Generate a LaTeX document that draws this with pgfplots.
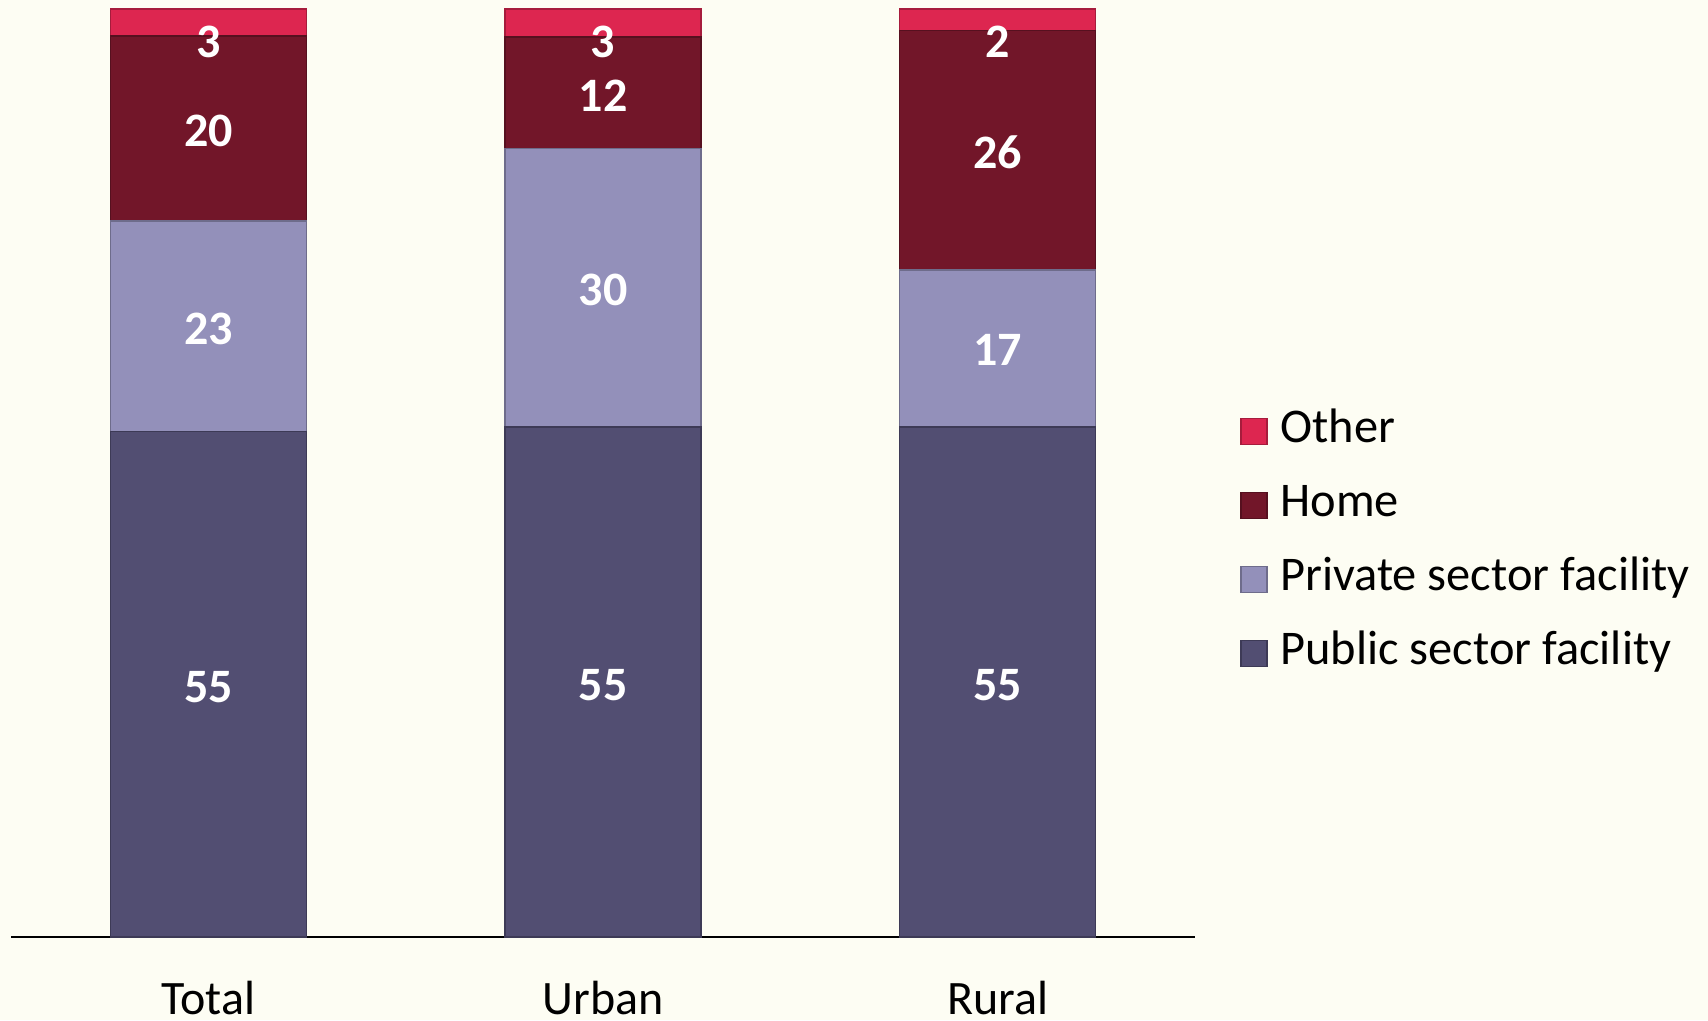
\documentclass[border=0pt]{standalone}
\usepackage{fontspec}
\setmainfont{Carlito}
\usepackage{pgfplots}
\pgfplotsset{compat=1.18}
\definecolor{bgcol}{RGB}{253,253,243}
\definecolor{pubcol}{RGB}{82,78,114}
\definecolor{privcol}{RGB}{147,144,186}
\definecolor{homecol}{RGB}{114,22,41}
\definecolor{othcol}{RGB}{221,38,80}
\begin{document}
\begin{tikzpicture}
\path[fill=bgcol, use as bounding box] (0,0) rectangle (427pt,255pt);
\pgfplotsset{
  basestyle/.style={
    scale only axis, width=296pt, height=234.25pt,
    at={(2.75pt,20.75pt)}, anchor=south west,
    xmin=-0.5, xmax=2.5, ymin=0, ymax=101,
    clip=false,
  }
}
\begin{axis}[basestyle,
  ybar stacked, bar width=49pt,
  axis x line*=bottom, axis y line=none,
  x axis line style={black, line width=0.45pt},
  xtick={0,1,2}, xticklabels={Total,Urban,Rural},
  major tick length=0pt,
  xticklabel style={font=\fontsize{12}{14}\selectfont, anchor=base, yshift=-19.25pt},
  reverse legend,
  legend cell align=left,
  legend style={draw=none, fill=none, at={(1.0376,0.570)}, anchor=north west,
    font=\fontsize{12.1}{14}\selectfont, inner sep=0pt,
    nodes={inner sep=1.6pt, text height=8pt, text depth=2.5pt}, row sep=4.8pt,
    /tikz/every odd column/.append style={column sep=1.6pt}},
  legend image code/.code={\draw[#1, line width=0.3pt] (0pt,-3.25pt) rectangle (6.5pt,3.25pt);},
]
\addplot[fill=pubcol, draw=pubcol!75!black, line width=0.4pt] coordinates {(0,54.5) (1,55.0) (2,55.0)};
\addlegendentry{Public sector facility}
\addplot[fill=privcol, draw=privcol!75!black, line width=0.4pt] coordinates {(0,22.7) (1,30.0) (2,16.9)};
\addlegendentry{Private sector facility}
\addplot[fill=homecol, draw=homecol!75!black, line width=0.4pt] coordinates {(0,19.9) (1,12.0) (2,25.8)};
\addlegendentry{Home}
\addplot[fill=othcol, draw=othcol!75!black, line width=0.4pt] coordinates {(0,2.9) (1,3.0) (2,2.3)};
\addlegendentry{Other}
\end{axis}
\begin{axis}[basestyle, axis lines=none, xtick=\empty, ytick=\empty]
\addplot[only marks, mark=none, point meta=explicit symbolic,
  nodes near coords, nodes near coords align={center},
  every node near coord/.append style={text=white, font=\fontsize{12}{14}\selectfont\bfseries, inner sep=0pt}]
  coordinates {
  (0,26.9)[55] (1,27.1)[55] (2,27.1)[55]
  (0,65.5)[23] (1,69.7)[30] (2,63.3)[17]
  (0,86.9)[20] (1,90.7)[12] (2,84.6)[26]
  (0,96.5)[3] (1,96.5)[3] (2,96.5)[2]
  };
\end{axis}
\end{tikzpicture}
\end{document}
